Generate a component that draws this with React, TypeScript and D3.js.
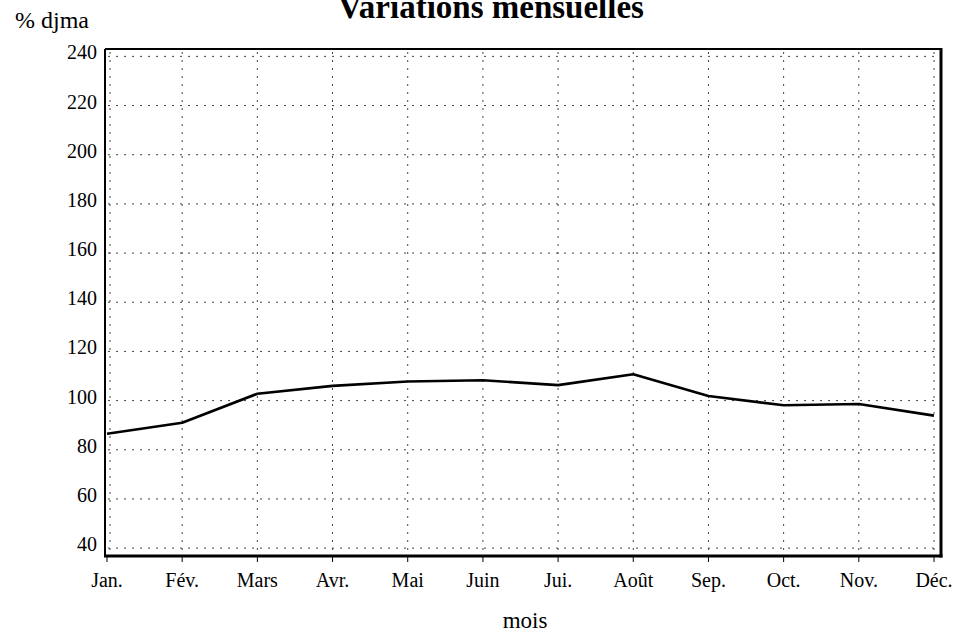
import React from "react";
import * as d3 from "d3";

const months = ["Jan.", "Fév.", "Mars", "Avr.", "Mai", "Juin", "Jui.", "Août", "Sep.", "Oct.", "Nov.", "Déc."];
const values = [86.5, 91, 102.8, 106, 107.8, 108.3, 106.3, 110.7, 101.9, 98.1, 98.6, 93.9];
const yTicks = [40, 60, 80, 100, 120, 140, 160, 180, 200, 220, 240];
const title = "Variations mensuelles";
const yTitle = "% djma";
const xTitle = "mois";

const W = 955;
const H = 633;
const frame = { left: 105, right: 941, top: 49, bottom: 556 };

export default function App() {
  const x = d3.scalePoint<string>().domain(months).range([107, 934]);
  const y = d3.scaleLinear().domain([36.8, 243]).range([frame.bottom, frame.top]);
  const line = d3
    .line<number>()
    .x((_, i) => x(months[i]) as number)
    .y((d) => y(d));
  const serif = "'Liberation Serif', 'Times New Roman', serif";

  return (
    <svg
      width={W}
      height={H}
      style={{ position: "absolute", left: 0, top: 0, background: "#fff" }}
      fontFamily={serif}
    >
      <rect x={0} y={0} width={W} height={H} fill="#fff" />
      {/* horizontal gridlines */}
      {yTicks.map((t) => (
        <line
          key={"h" + t}
          x1={frame.left + 3}
          x2={frame.right - 3}
          y1={y(t)}
          y2={y(t)}
          stroke="#444"
          strokeWidth={1}
          strokeDasharray="2,6"
        />
      ))}
      {/* vertical gridlines */}
      {months.map((m) => (
        <line
          key={"v" + m}
          x1={(x(m) as number) + (m === months[0] ? 3 : 0)}
          x2={(x(m) as number) + (m === months[0] ? 3 : 0)}
          y1={frame.top + 3}
          y2={frame.bottom - 2}
          stroke="#444"
          strokeWidth={1}
          strokeDasharray="2,6"
        />
      ))}
      {/* frame */}
      <line x1={frame.left} x2={frame.right} y1={frame.top} y2={frame.top} stroke="#000" strokeWidth={2} />
      <line x1={frame.left} x2={frame.left} y1={frame.top} y2={frame.bottom} stroke="#000" strokeWidth={2} />
      <line x1={frame.right} x2={frame.right} y1={frame.top - 1} y2={frame.bottom + 1.5} stroke="#000" strokeWidth={3} />
      <line x1={frame.left - 1} x2={frame.right + 1.5} y1={frame.bottom} y2={frame.bottom} stroke="#000" strokeWidth={3} />
      {/* x ticks */}
      {months.map((m) => (
        <line
          key={"t" + m}
          x1={x(m) as number}
          x2={x(m) as number}
          y1={frame.bottom}
          y2={frame.bottom + 6}
          stroke="#000"
          strokeWidth={1}
        />
      ))}
      {/* data line */}
      <path d={line(values) || ""} fill="none" stroke="#000" strokeWidth={2.6} strokeLinejoin="round" />
      {/* y labels */}
      {yTicks.map((t) => (
        <text key={"yl" + t} x={97} y={y(t) + 3} fontSize={20} textAnchor="end" fill="#000">
          {t}
        </text>
      ))}
      {/* x labels */}
      {months.map((m) => (
        <text key={"xl" + m} x={x(m) as number} y={587} fontSize={20} textAnchor="middle" fill="#000">
          {m}
        </text>
      ))}
      <text x={491} y={18} fontSize={33} fontWeight="bold" textAnchor="middle" fill="#000">
        {title}
      </text>
      <text x={15} y={28} fontSize={24} fill="#000">
        {yTitle}
      </text>
      <text x={525} y={628} fontSize={23} textAnchor="middle" fill="#000">
        {xTitle}
      </text>
    </svg>
  );
}
